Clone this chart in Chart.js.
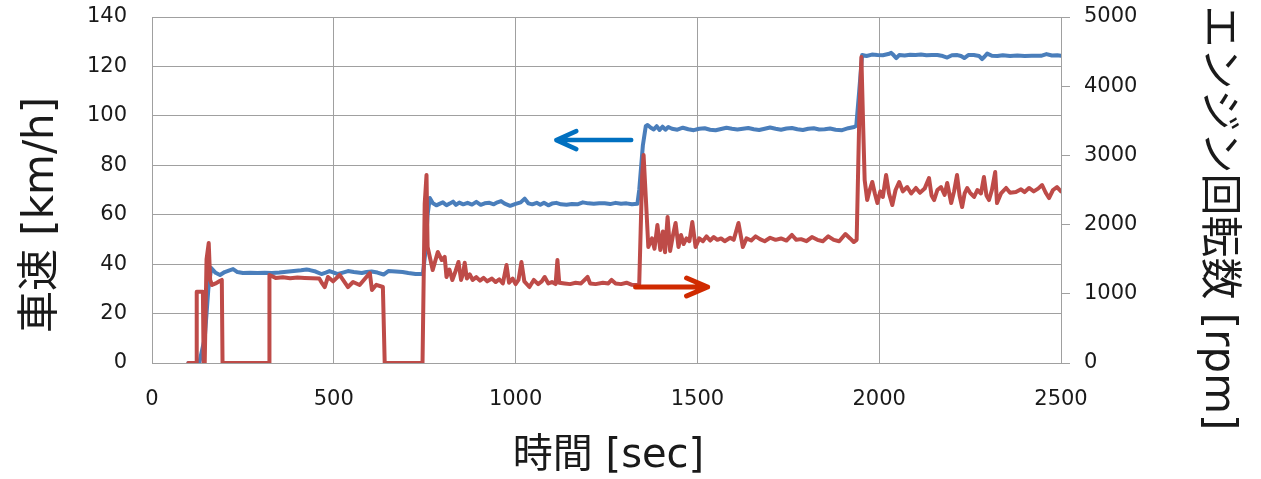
<!DOCTYPE html>
<html>
<head>
<meta charset="utf-8">
<script src="https://cdn.jsdelivr.net/npm/chart.js@4/dist/chart.umd.min.js"></script>
<style>
  html,body{margin:0;padding:0;background:#fff;}
  canvas{display:block;}
</style>
</head>
<body>
<canvas id="chart" width="1261" height="479"></canvas>
<script>
// 車速 (左軸) と エンジン回転数 (右軸) の時系列
const xTicks = [0, 500, 1000, 1500, 2000, 2500];
const speedTicks = [0, 20, 40, 60, 80, 100, 120, 140];
const rpmTicks = [0, 1000, 2000, 3000, 4000, 5000];

// 車速 [km/h]
const speedTime = [
  100,130,145,155,163,175,187,200,213,223,235,250,270,290,310,330,350,370,390,410,
  425,434,450,466,478,488,500,511,525,539,555,577,590,604,620,637,650,670,689,705,
  725,745,752,758,764,772,782,792,800,810,820,828,836,845,856,868,880,892,904,915,
  928,940,950,960,970,985,1000,1014,1025,1035,1046,1058,1068,1078,1090,1100,1112,1125,1140,1155,
  1170,1185,1200,1215,1230,1245,1260,1275,1290,1305,1320,1335,1340,1350,1358,1363,1372,1380,1388,1396,
  1404,1412,1420,1430,1445,1460,1475,1490,1505,1520,1535,1550,1565,1580,1595,1610,1625,1640,1655,1670,
  1685,1700,1715,1730,1745,1760,1775,1790,1805,1820,1835,1850,1865,1880,1898,1915,1931,1937,1945,1953,
  1965,1980,1995,2010,2025,2033,2040,2047,2055,2070,2085,2100,2115,2130,2145,2160,2175,2187,2200,2215,
  2225,2234,2245,2260,2275,2283,2290,2297,2310,2325,2340,2360,2380,2400,2420,2445,2460,2475,2490,2500
];
const speedKmh = [
  0,0,10,30,38.4,36.5,35.6,36.8,37.5,38.0,36.8,36.4,36.5,36.4,36.5,36.4,36.6,36.9,37.2,37.5,
  37.8,37.6,37.0,36.0,36.6,37.2,36.6,36.0,36.6,37.2,36.8,36.4,36.8,37.0,36.6,35.8,37.2,37.0,36.8,36.4,
  36.0,36.0,45,60,66.8,64.7,63.8,64.5,65.0,63.8,64.6,65.3,64.0,64.9,64.2,64.8,64.1,65.2,64.0,64.6,
  64.8,64.2,65.0,65.5,64.5,63.6,64.4,65.0,66.5,64.6,64.2,64.8,64.0,64.8,63.8,64.5,64.8,64.2,64.0,64.3,
  64.2,65.0,64.6,64.4,64.6,64.6,64.3,64.8,64.4,64.6,64.2,64.4,70,88,95.8,96.3,95.2,94.5,95.8,94.3,
  95.6,94.4,95.5,94.8,94.4,95.2,94.6,94.2,94.8,95.0,94.4,94.2,94.7,95.2,94.8,94.5,94.8,95.1,94.6,94.3,
  94.8,95.3,94.8,94.4,94.9,95.1,94.6,94.3,94.8,95.0,94.5,94.6,94.9,94.4,94.2,95.0,95.5,96,110,124.6,
  124.2,124.8,124.6,124.5,125.0,125.5,124.5,123.4,124.6,124.4,124.7,124.6,124.8,124.5,124.6,124.6,124.2,123.6,124.5,124.6,
  124.2,123.4,124.6,124.6,124.2,123.0,124.0,125.2,124.3,124.2,124.5,124.2,124.4,124.2,124.3,124.3,125.0,124.4,124.5,124.3
];

// エンジン回転数 [rpm]
const rpmTime = [
  100,122,123,140,142,145,150,156,160,165,175,185,192,194,322,323,340,360,380,400,
  420,440,460,468,475,484,498,516,539,553,571,599,605,617,635,640,744,750,755,758,
  772,786,797,805,810,818,826,835,843,850,856,860,866,874,882,892,902,912,922,935,
  945,955,965,975,982,992,1000,1008,1016,1024,1038,1050,1062,1072,1080,1090,1100,1110,1115,1120,
  1135,1150,1165,1180,1198,1205,1220,1240,1255,1264,1275,1290,1305,1320,1334,1340,1348,1352,1358,1365,
  1375,1382,1390,1398,1405,1411,1418,1425,1433,1440,1448,1455,1462,1470,1478,1486,1495,1505,1515,1525,
  1535,1545,1555,1565,1575,1590,1600,1613,1625,1635,1648,1660,1672,1685,1700,1715,1730,1745,1760,1772,
  1785,1800,1815,1830,1845,1860,1875,1890,1907,1920,1930,1938,1945,1951,1956,1960,1967,1974,1981,1988,
  1995,2003,2010,2019,2027,2036,2045,2055,2065,2077,2088,2101,2112,2125,2137,2144,2151,2160,2170,2180,
  2187,2198,2206,2214,2221,2228,2235,2242,2250,2261,2270,2280,2288,2295,2302,2310,2319,2324,2335,2349,
  2360,2376,2390,2400,2412,2425,2437,2448,2458,2467,2478,2489,2500
];
const rpmValue = [
  0,0,1030,1030,0,0,1500,1734,1200,1127,1150,1180,1200,0,0,1272,1230,1240,1225,1235,
  1230,1225,1220,1150,1098,1243,1180,1272,1098,1170,1127,1300,1055,1130,1098,0,0,2300,2717,1676,
  1344,1604,1488,1532,1243,1350,1200,1330,1460,1200,1300,1450,1220,1280,1200,1240,1190,1230,1180,1220,
  1170,1210,1150,1416,1160,1220,1140,1200,1460,1180,1098,1200,1140,1180,1243,1150,1170,1140,1488,1160,
  1150,1140,1160,1150,1243,1150,1140,1160,1150,1200,1150,1140,1160,1130,1127,1140,2700,3006,2400,1676,
  1800,1650,1994,1633,1900,1600,2110,1620,1850,2023,1676,1850,1720,1800,1760,2037,1676,1800,1760,1830,
  1770,1820,1780,1800,1760,1810,1780,2023,1676,1800,1770,1830,1790,1760,1810,1780,1800,1770,1850,1780,
  1790,1760,1820,1780,1760,1830,1780,1760,1864,1800,1748,1780,3500,4422,3400,2645,2355,2500,2616,2450,
  2312,2480,2400,2717,2450,2283,2500,2616,2480,2543,2450,2529,2460,2520,2673,2420,2355,2500,2543,2430,
  2601,2312,2480,2717,2420,2254,2450,2529,2460,2399,2500,2450,2688,2420,2355,2500,2760,2312,2450,2529,
  2460,2471,2510,2470,2529,2480,2520,2572,2460,2384,2500,2543,2480
];

const GRID = '#a0a0a0';
const TEXT = '#1a1a1a';
const TICK_FONT = {family:'"DejaVu Sans", "Noto Sans CJK JP"', size:21};
const TITLE_FAMILY = '"DejaVu Sans", "Noto Sans CJK JP"';

function toXY(xs, ys){ return xs.map((x,i)=>({x:x, y:ys[i]})); }
const plain = v => String(v);

// 軸タイトルと矢印 (矢印の位置はデータ座標で指定)
const decor = {
  id:'decor',
  afterDatasetsDraw(chart){
    const ctx = chart.ctx;
    const sx = chart.scales.x, sl = chart.scales.y, sr = chart.scales.y2;
    const arrow = (x1, y1, x2, y2, color, w, head, half) => {
      const dir = Math.sign(x2 - x1);
      ctx.save();
      ctx.strokeStyle = color;
      ctx.lineWidth = w;
      ctx.lineCap = 'round';
      ctx.lineJoin = 'round';
      ctx.beginPath();
      ctx.moveTo(x1, y1); ctx.lineTo(x2, y2);
      ctx.moveTo(x2 - dir*head, y2 - half); ctx.lineTo(x2, y2); ctx.lineTo(x2 - dir*head, y2 + half);
      ctx.stroke();
      ctx.restore();
    };
    // 左向き (車速 → 左軸)
    arrow(sx.getPixelForValue(1318), sl.getPixelForValue(90.2),
          sx.getPixelForValue(1112), sl.getPixelForValue(90.2), '#0070c0', 4.5, 20, 9);
    // 右向き (回転数 → 右軸)
    arrow(sx.getPixelForValue(1330), sr.getPixelForValue(1098),
          sx.getPixelForValue(1528), sr.getPixelForValue(1098), '#d02a00', 5, 21, 9);
  },
  afterDraw(chart){
    const ctx = chart.ctx;
    const a = chart.chartArea;
    ctx.save();
    ctx.fillStyle = TEXT;
    ctx.textAlign = 'center';
    ctx.textBaseline = 'middle';
    ctx.font = '42px ' + TITLE_FAMILY;
    ctx.save();
    ctx.translate(42, 215);
    ctx.rotate(-Math.PI/2);
    ctx.fillText('車速 [km/h]', 0, 0);
    ctx.restore();
    ctx.save();
    ctx.translate(1217, 218);
    ctx.rotate(Math.PI/2);
    ctx.fillText('エンジン回転数 [rpm]', 0, 0);
    ctx.restore();
    ctx.font = '40px ' + TITLE_FAMILY;
    ctx.fillText('時間 [sec]', (a.left + a.right)/2 + 2, 457);
    ctx.restore();
  }
};

new Chart(document.getElementById('chart'), {
  type:'line',
  data:{
    datasets:[
      {
        label:'エンジン回転数',
        data:toXY(rpmTime, rpmValue),
        yAxisID:'y2',
        borderColor:'#be4b48',
        borderWidth:4,
        pointRadius:0,
        tension:0,
        borderJoinStyle:'round',
        borderCapStyle:'round'
      },
      {
        label:'車速',
        data:toXY(speedTime, speedKmh),
        yAxisID:'y',
        borderColor:'#4a7ebb',
        borderWidth:4,
        pointRadius:0,
        tension:0,
        borderJoinStyle:'round',
        borderCapStyle:'round'
      }
    ]
  },
  options:{
    responsive:false,
    animation:false,
    devicePixelRatio:1,
    layout:{padding:{top:17, left:0, right:0, bottom:0}},
    plugins:{legend:{display:false}, tooltip:{enabled:false}},
    scales:{
      x:{
        type:'linear', min:0, max:2500,
        afterBuildTicks(s){ s.ticks = xTicks.map(v=>({value:v})); },
        afterFit(s){ s.height = 116; s.paddingLeft = 0; s.paddingRight = 0; },
        grid:{color:GRID, lineWidth:1, drawTicks:false},
        border:{color:GRID},
        ticks:{color:TEXT, font:TICK_FONT, padding:24, maxRotation:0, callback:plain}
      },
      y:{
        position:'left', min:0, max:140,
        afterBuildTicks(s){ s.ticks = speedTicks.map(v=>({value:v})); },
        afterFit(s){ s.width = 152; s.paddingTop = 0; s.paddingBottom = 0; },
        grid:{color:GRID, lineWidth:1, drawTicks:false},
        border:{color:GRID},
        ticks:{color:TEXT, font:TICK_FONT, padding:25, callback:plain}
      },
      y2:{
        position:'right', min:0, max:5000,
        afterBuildTicks(s){ s.ticks = rpmTicks.map(v=>({value:v})); },
        afterFit(s){ s.width = 200; s.paddingTop = 0; s.paddingBottom = 0; },
        grid:{drawOnChartArea:false, drawTicks:true, tickLength:9, color:GRID},
        border:{color:GRID},
        ticks:{color:TEXT, font:TICK_FONT, padding:14, callback:plain}
      }
    }
  },
  plugins:[decor]
});
</script>
</body>
</html>
